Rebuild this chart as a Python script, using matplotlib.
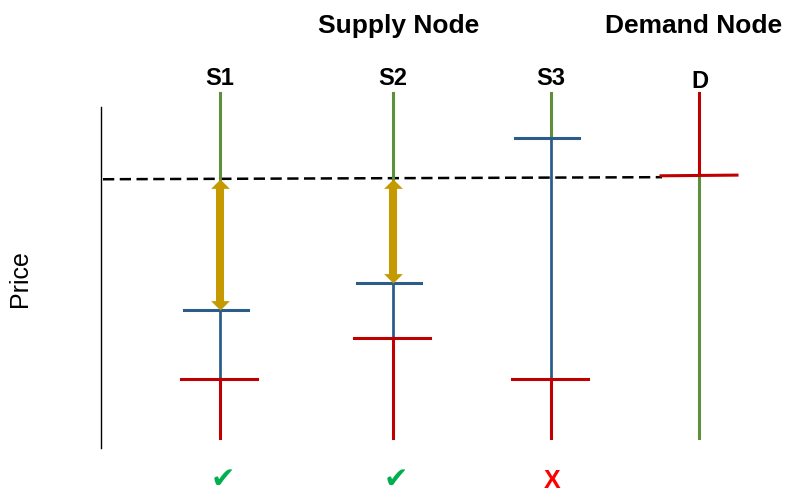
import matplotlib
matplotlib.use("Agg")
import matplotlib.pyplot as plt

# ── Data (price units: 0 = bottom of stems, 100 = top of stems) ─────────────
supply_nodes = ["S1", "S2", "S3"]
demand_node = "D"
top_price = 100
bottom_price = 0
clearing_price = 75
offer_price = [37, 45, 87]       # blue tick per supply node
cost_price = [17, 29, 17]        # red tick per supply node
demand_price = 76                # red tick on demand node
accepted = [True, True, False]

# ── Layout / style ──────────────────────────────────────────────────────────
W, H = 785, 493
PX_PER_UNIT = 3.45
Y0_PX = 438                       # pixel row of price 0
SUPPLY_X = [220, 393, 551]
DEMAND_X = 699
GREEN = "#5E8F3B"
BLUE = "#2B5C8A"
RED = "#C00000"
GOLD = "#C49A00"
STEM_LW = 2.2
TICK_LW = 2.2

plt.rcParams["font.family"] = ["Liberation Sans", "DejaVu Sans"]

fig = plt.figure(figsize=(W / 100, H / 100), dpi=100)
ax = fig.add_axes([0, 0, 1, 1])
ax.set_xlim(0, W)
ax.set_ylim(-(H - Y0_PX) / PX_PER_UNIT, Y0_PX / PX_PER_UNIT)
ax.axis("off")


def fx(px):
    return px / W


def fy(py):
    return 1 - py / H


# price axis line
ax.plot([101, 101], [(Y0_PX - 107) / PX_PER_UNIT, (Y0_PX - 448) / PX_PER_UNIT],
        color="black", lw=1.0)

# clearing price (dashed)
ax.plot([103, 662], [clearing_price, clearing_price + 0.6],
        color="black", lw=1.8, dashes=(4.5, 2.2), zorder=2)

head_up = [(-1, -1), (1, -1), (0, 0)]
head_dn = [(-1, 1), (1, 1), (0, 0)]

for x, offer, cost, ok in zip(SUPPLY_X, offer_price, cost_price, accepted):
    green_low = max(clearing_price, offer)
    ax.plot([x, x], [top_price, green_low], color=GREEN, lw=STEM_LW, zorder=3)
    ax.plot([x, x], [offer, cost], color=BLUE, lw=STEM_LW * 0.9, zorder=3)
    ax.plot([x, x], [cost, bottom_price], color=RED, lw=STEM_LW, zorder=3)
    ax.plot([x - 36, x + 28], [offer, offer], color=BLUE, lw=TICK_LW, zorder=4)
    ax.plot([x - 39, x + 37], [cost, cost], color=RED, lw=TICK_LW, zorder=4)
    if ok:
        ax.plot([x, x], [clearing_price - 1.5, offer + 1.5], color=GOLD,
                lw=5.8, solid_capstyle="butt", zorder=5)
        ax.plot([x], [clearing_price], marker=head_up, ms=13.5, color=GOLD,
                mew=0, zorder=5)
        ax.plot([x], [offer], marker=head_dn, ms=13.5, color=GOLD,
                mew=0, zorder=5)

# demand node
ax.plot([DEMAND_X, DEMAND_X], [top_price, demand_price], color=RED, lw=STEM_LW, zorder=3)
ax.plot([DEMAND_X, DEMAND_X], [demand_price, bottom_price], color=GREEN, lw=STEM_LW, zorder=3)
ax.plot([DEMAND_X - 38, DEMAND_X + 38], [demand_price, demand_price + 0.2],
        color=RED, lw=TICK_LW, zorder=4)

# ── Text ────────────────────────────────────────────────────────────────────
fig.text(fx(399), fy(33), "Supply Node", fontsize=19, fontweight="bold",
         ha="center", va="baseline")
fig.text(fx(694), fy(33), "Demand Node", fontsize=19, fontweight="bold",
         ha="center", va="baseline")
for x, name in zip(SUPPLY_X, supply_nodes):
    fig.text(fx(x), fy(85), name, fontsize=17, fontweight="bold",
             ha="center", va="baseline")
fig.text(fx(DEMAND_X + 1), fy(88), demand_node, fontsize=17, fontweight="bold",
         ha="center", va="baseline")
fig.text(fx(20), fy(279), "Price", fontsize=18, rotation=90,
         ha="center", va="center")

for x, ok in zip(SUPPLY_X, accepted):
    if ok:
        fig.text(fx(x + 3), fy(480), "\u2714", fontsize=21, color="#00B050",
                 family="DejaVu Sans", ha="center", va="center")
    else:
        fig.text(fx(x + 1), fy(481), "X", fontsize=18, color="#FF0000",
                 fontweight="bold", ha="center", va="center")

fig.savefig("out.png", dpi=100, facecolor="white")
